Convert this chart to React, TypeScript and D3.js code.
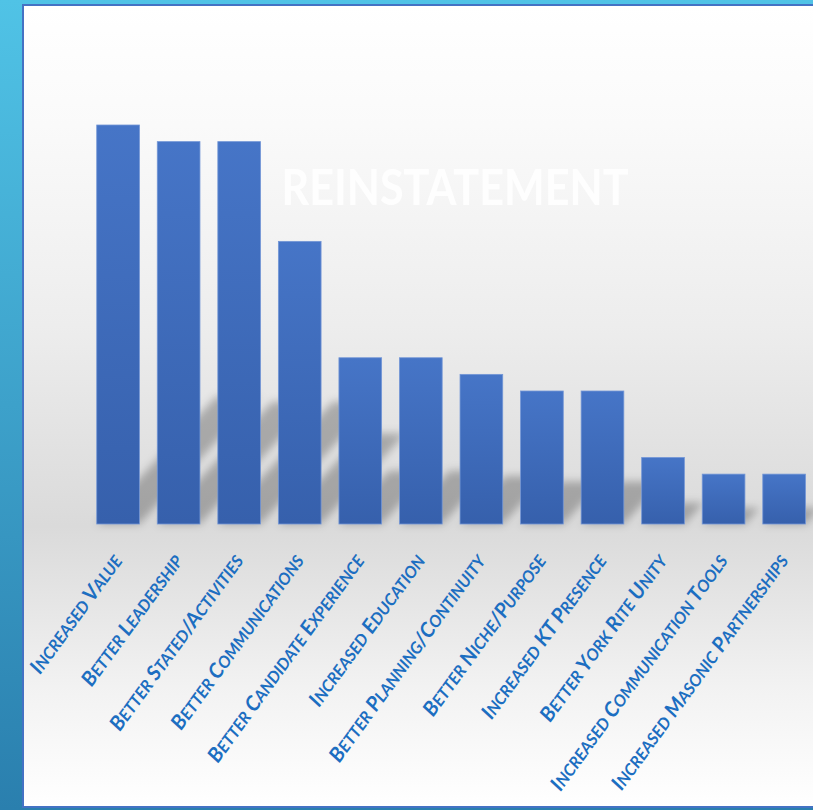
import React from "react";
import * as d3 from "d3";

const categories: string[] = [
  "Increased Value",
  "Better Leadership",
  "Better Stated/Activities",
  "Better Communications",
  "Better Candidate Experience",
  "Increased Education",
  "Better Planning/Continuity",
  "Better Niche/Purpose",
  "Increased KT Presence",
  "Better York Rite Unity",
  "Increased Communication Tools",
  "Increased Masonic Partnerships",
];
const values: number[] = [24, 23, 23, 17, 10, 10, 9, 8, 8, 4, 3, 3];
const title = "REINSTATEMENT";

const W = 813;
const H = 810;
const LABEL_SIZE = 20.5;
const SMALL_RATIO = 0.8;

// split a label into small-caps runs
function runs(s: string): { t: string; small: boolean }[] {
  const out: { t: string; small: boolean }[] = [];
  for (const ch of s) {
    const small = ch !== ch.toUpperCase();
    const last = out[out.length - 1];
    if (last && last.small === small) last.t += ch.toUpperCase();
    else out.push({ t: ch.toUpperCase(), small });
  }
  return out;
}

export default function App() {
  const x = d3
    .scaleBand<string>()
    .domain(categories)
    .range([87.8, 814.4])
    .paddingInner(0.295)
    .paddingOuter(0.1475);
  const y = d3.scaleLinear().domain([0, 24]).range([524, 125]);
  const base = y(0);
  const bw = x.bandwidth();

  return (
    <svg
      width={W}
      height={H}
      style={{ position: "absolute", left: 0, top: 0, display: "block" }}
    >
      <defs>
        <linearGradient id="outer" x1="0" y1="0" x2="0" y2="1">
          <stop offset="0%" stopColor="#50C3E6" />
          <stop offset="100%" stopColor="#2A7FAE" />
        </linearGradient>
        <linearGradient id="panel" x1="0" y1="0" x2="0" y2="1">
          <stop offset="0%" stopColor="#FFFFFF" />
          <stop offset="15%" stopColor="#FAFAFA" />
          <stop offset="40%" stopColor="#EDEDED" />
          <stop offset="65%" stopColor="#DADADA" />
          <stop offset="85%" stopColor="#F2F2F2" />
          <stop offset="100%" stopColor="#FFFFFF" />
        </linearGradient>
        <linearGradient id="bar" x1="0" y1="0" x2="0" y2="1">
          <stop offset="0%" stopColor="#4675C7" />
          <stop offset="100%" stopColor="#3660AC" />
        </linearGradient>
        <filter id="blur" x="-50%" y="-50%" width="200%" height="200%">
          <feGaussianBlur stdDeviation="4" />
        </filter>
      </defs>
      <rect x={0} y={0} width={W} height={H} fill="url(#outer)" />
      <rect
        x={23}
        y={5}
        width={W}
        height={802}
        fill="url(#panel)"
        stroke="#4472C4"
        strokeWidth={2}
      />
      <g filter="url(#blur)">
        {categories.map((c, i) => {
          const x0 = x(c)!;
          const h = base - y(values[i]);
          const sh = 0.32 * h;
          const sk = 0.3 * h;
          const pts = [
            [x0, base],
            [x0 + bw, base],
            [x0 + bw + sk, base - sh],
            [x0 + sk, base - sh],
          ]
            .map((p) => p.join(","))
            .join(" ");
          return <polygon key={c} points={pts} fill="rgba(0,0,0,0.26)" />;
        })}
      </g>
      {categories.map((c, i) => (
        <rect
          key={c}
          x={x(c)!}
          y={y(values[i])}
          width={bw}
          height={base - y(values[i])}
          fill="url(#bar)"
          stroke="#7396D6"
          strokeWidth={0.8}
        />
      ))}
      <text
        x={455}
        y={205}
        textAnchor="middle"
        fill="#FFFFFF"
        fontFamily="Lato, 'DejaVu Sans', sans-serif"
        fontWeight={700}
        fontSize={50}
        textLength={347}
        lengthAdjust="spacingAndGlyphs"
        opacity={0.9}
      >
        {title}
      </text>
      {categories.map((c) => {
        const cx = x(c)! + bw / 2 + 5;
        const cy = 561;
        return (
          <text
            key={c}
            transform={`translate(${cx},${cy}) rotate(-54)`}
            textAnchor="end"
            fill="#1C6EC1"
            fontFamily="Lato, 'Open Sans', sans-serif"
            fontStyle="italic"
            fontWeight={700}
            fontSize={LABEL_SIZE}
          >
            {runs(c).map((r, k) => (
              <tspan
                key={k}
                fontSize={r.small ? LABEL_SIZE * SMALL_RATIO : LABEL_SIZE}
              >
                {r.t}
              </tspan>
            ))}
          </text>
        );
      })}
    </svg>
  );
}
